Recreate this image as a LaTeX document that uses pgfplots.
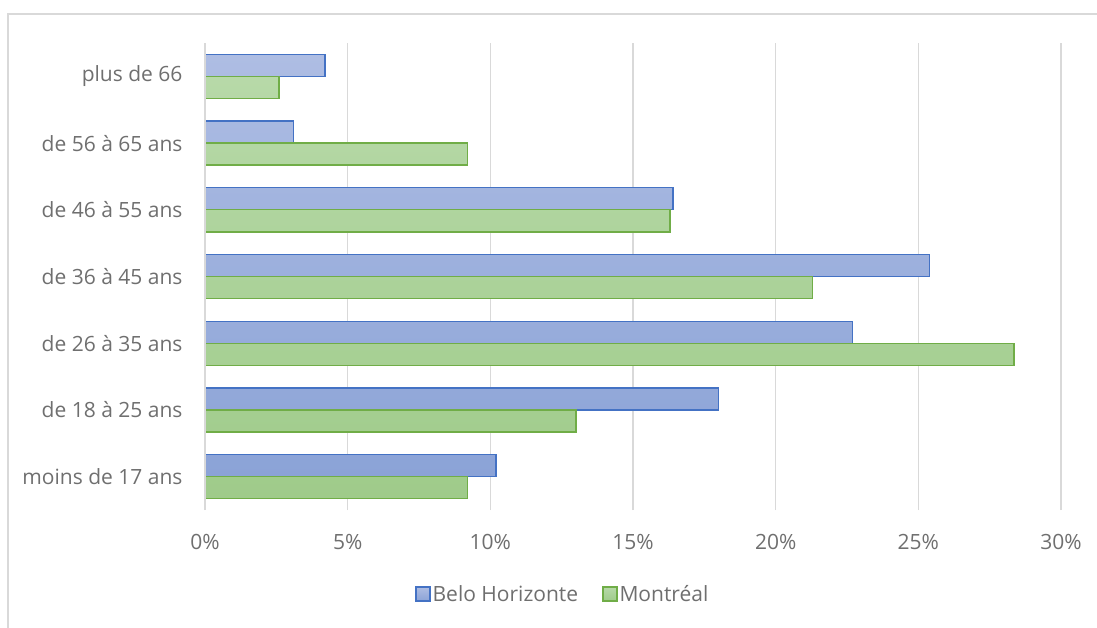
\documentclass[border=0pt]{standalone}
\usepackage{pgfplots}
\pgfplotsset{compat=1.18}
\usepackage{fontspec}
\setmainfont{Open Sans}
\definecolor{txt}{HTML}{6F6F6F}
\definecolor{gridc}{HTML}{D9D9D9}
\definecolor{bhline}{HTML}{4472C4}
\definecolor{bhtop}{HTML}{AEBDE3}
\definecolor{bhbot}{HTML}{8BA3D7}
\definecolor{mtline}{HTML}{70AD47}
\definecolor{mttop}{HTML}{B7D9A8}
\definecolor{mtbot}{HTML}{9FCB8A}
\begin{document}
\begin{tikzpicture}
\useasboundingbox (0pt,0pt) rectangle (1097pt,627pt);
% chart frame
\draw[gridc, line width=1.2pt] (8pt,-10pt) -- (8pt,613pt) -- (1110pt,613pt);
\begin{axis}[
  at={(205pt,117pt)}, anchor=south west,
  scale only axis, width=856pt, height=467pt,
  xmin=0, xmax=30, ymin=-0.5, ymax=6.5,
  axis line style={draw=none},
  xtick={0,5,10,15,20,25,30},
  xticklabels={0\%,5\%,10\%,15\%,20\%,25\%,30\%},
  ytick={0,1,2,3,4,5,6},
  yticklabels={moins de 17 ans,de 18 à 25 ans,de 26 à 35 ans,de 36 à 45 ans,de 46 à 55 ans,de 56 à 65 ans,plus de 66},
  major tick length=0pt,
  xmajorgrids, grid style={gridc, line width=1.3pt},
  ticklabel style={font=\fontsize{21}{24}\selectfont, text=txt},
  xticklabel style={yshift=-21pt},
  yticklabel style={xshift=-19pt},
  xbar, bar width=0.33,
  legend style={at={(0.418,-0.18)}, anchor=center, draw=none,
    font=\fontsize{21}{24}\selectfont, text=txt,
    legend columns=2,
    /tikz/every even column/.append style={column sep=22pt}},
  legend image code/.code={\draw[#1, bar shift=0pt] (0pt,-7pt) rectangle (14pt,7pt);},
  legend cell align=left,
]
\addplot[draw=bhline, line width=1.4pt, top color=bhtop, bottom color=bhbot, bar shift=0.165]
  coordinates {(10.2,0) (18.0,1) (22.7,2) (25.4,3) (16.4,4) (3.1,5) (4.2,6)};
\addplot[draw=mtline, line width=1.4pt, top color=mttop, bottom color=mtbot, bar shift=-0.165]
  coordinates {(9.2,0) (13.0,1) (28.35,2) (21.3,3) (16.3,4) (9.2,5) (2.6,6)};
\draw[gridc, line width=1.3pt] (axis cs:0,-0.5) -- (axis cs:0,6.5);
\legend{Belo Horizonte, Montréal}
\end{axis}
\end{tikzpicture}
\end{document}
